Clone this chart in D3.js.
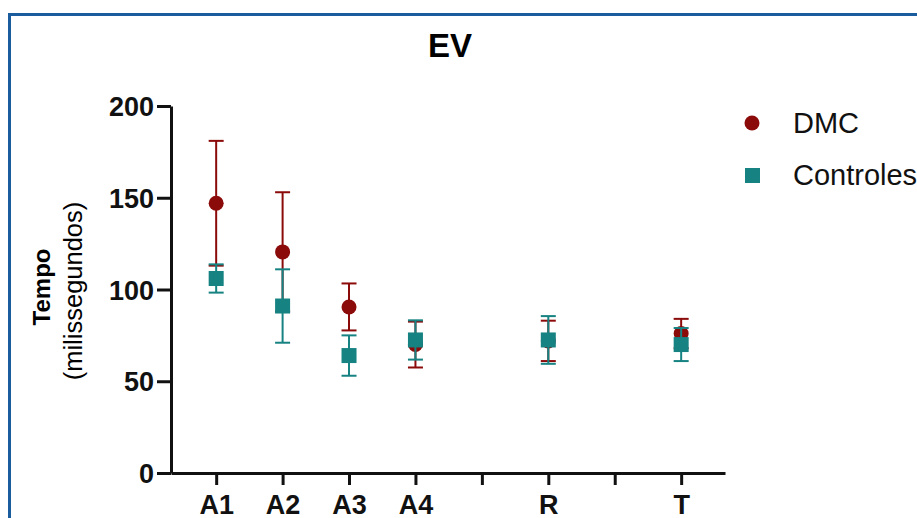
<!DOCTYPE html>
<html>
<head>
<meta charset="utf-8">
<script src="https://cdn.jsdelivr.net/npm/d3@7"></script>
<style>
  body { margin: 0; background: #fff; }
  svg { display: block; font-family: "Liberation Sans", Arial, Helvetica, sans-serif; }
</style>
</head>
<body>
<div id="graph"></div>
<script>
var w = 917, h = 518

// x slots: 8 positions, two of them are empty spacers
var slots = ["A1", "A2", "A3", "A4", "", "R", "", "T"]
var groups = ["A1", "A2", "A3", "A4", "R", "T"]

var dmcMean = [147, 120.5, 90.5, 70, 72, 76]
var dmcErr  = [34, 32.5, 12.8, 12.5, 11, 8]
var ctrlMean = [106, 91, 64, 72.5, 72.5, 70]
var ctrlErr  = [7.7, 20, 11, 10.7, 13, 9]

var yTicks = [0, 50, 100, 150, 200]

var red = "#8b0a0a", teal = "#168282"

var svg = d3.select('#graph')
  .html('')
  .append('svg')
  .attr("width", w)
  .attr("height", h)

// blue frame
svg.append("rect")
  .attr("x", 9.5).attr("y", 14.5)
  .attr("width", 1000).attr("height", 1000)
  .attr("fill", "none")
  .attr("stroke", "#1a5c9e")
  .attr("stroke-width", 3)

svg.append("text")
  .attr("x", 450).attr("y", 57)
  .attr("text-anchor", "middle")
  .style("font-size", "33px").style("font-weight", "bold")
  .text("EV")

var x = d3.scaleLinear().domain([-0.68, 7.66]).range([171, 725])
var y = d3.scaleLinear().domain([0, 200]).range([473, 106])

var xAxis = d3.axisBottom(x)
  .tickValues(d3.range(slots.length))
  .tickFormat(i => slots[i])
  .tickSize(12)
  .tickPadding(10)
  .tickSizeOuter(0)

var yAxis = d3.axisLeft(y)
  .tickValues(yTicks)
  .tickSize(14)
  .tickPadding(3)
  .tickSizeOuter(0)

var gx = svg.append("g").attr("transform", "translate(0,473)").call(xAxis)
var gy = svg.append("g").attr("transform", "translate(171,0)").call(yAxis)

;[gx, gy].forEach(g => {
  g.selectAll("path, line").attr("stroke", "#111").attr("stroke-width", 3)
  g.selectAll("text").attr("fill", "#111")
    .style("font-size", "27px").style("font-weight", "bold")
    .style("font-family", "'Liberation Sans', Arial, sans-serif")
})
gy.selectAll("text").attr("dy", "0.36em")

// y label
svg.append("text")
  .attr("transform", "translate(50,287) rotate(-90)")
  .attr("text-anchor", "middle")
  .style("font-size", "24px").style("font-weight", "bold")
  .text("Tempo")
svg.append("text")
  .attr("transform", "translate(82,291) rotate(-90)")
  .attr("text-anchor", "middle")
  .style("font-size", "25.5px")
  .text("(milissegundos)")

function slotOf(g) { return slots.indexOf(g) }

function drawSeries(mean, err, color, shape) {
  var data = groups.map((g, i) => ({g: g, m: mean[i], e: err[i]}))
  var sg = svg.append("g")
  var bars = sg.selectAll(".err").data(data).enter().append("g")
    .attr("stroke", color).attr("stroke-width", 2)
  bars.append("line")
    .attr("x1", d => x(slotOf(d.g))).attr("x2", d => x(slotOf(d.g)))
    .attr("y1", d => y(d.m + d.e)).attr("y2", d => y(d.m - d.e))
  bars.append("line")
    .attr("x1", d => x(slotOf(d.g)) - 7.5).attr("x2", d => x(slotOf(d.g)) + 7.5)
    .attr("y1", d => y(d.m + d.e)).attr("y2", d => y(d.m + d.e))
  bars.append("line")
    .attr("x1", d => x(slotOf(d.g)) - 7.5).attr("x2", d => x(slotOf(d.g)) + 7.5)
    .attr("y1", d => y(d.m - d.e)).attr("y2", d => y(d.m - d.e))

  if (shape == 'circle') {
    sg.selectAll(".pt").data(data).enter().append("circle")
      .attr("cx", d => x(slotOf(d.g))).attr("cy", d => y(d.m))
      .attr("r", 7.5).attr("fill", color)
  } else {
    sg.selectAll(".pt").data(data).enter().append("rect")
      .attr("x", d => x(slotOf(d.g)) - 7.5).attr("y", d => y(d.m) - 7.5)
      .attr("width", 15).attr("height", 15).attr("fill", color)
  }
}

drawSeries(dmcMean, dmcErr, red, 'circle')
drawSeries(ctrlMean, ctrlErr, teal, 'square')

// legend
var legend = svg.append("g")
legend.append("circle").attr("cx", 752).attr("cy", 123).attr("r", 7.5).attr("fill", red)
legend.append("rect").attr("x", 745).attr("y", 168).attr("width", 15).attr("height", 15).attr("fill", teal)
legend.append("text").attr("x", 793).attr("y", 133).style("font-size", "29px").attr("fill", "#111").text("DMC")
legend.append("text").attr("x", 793).attr("y", 185).style("font-size", "29px").attr("fill", "#111").text("Controles")
</script>
</body>
</html>
